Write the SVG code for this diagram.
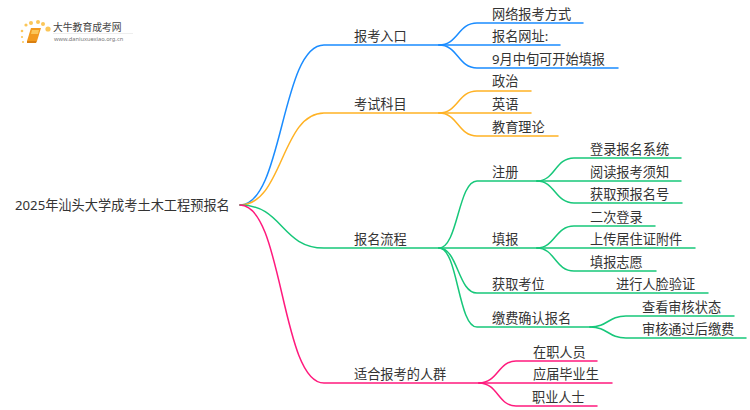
<svg xmlns="http://www.w3.org/2000/svg" width="750" height="410" viewBox="0 0 750 410">
<style>
text{font-family:"Noto Sans","Noto Sans CJK SC",sans-serif;font-size:13.2px;fill:#333}
.c path{fill:none;stroke-width:1.5;stroke-linecap:round}
.b path{stroke:#1a8cff}.o path{stroke:#ffb224}.g path{stroke:#17c77a}.p path{stroke:#ff1a7d}
</style>
<rect width="750" height="410" fill="#fff"/>
<g id="logo">
<g fill="#fbc658"><circle cx="48" cy="29" r="2.6"/><circle cx="43" cy="24" r="2"/><circle cx="38" cy="22" r="2"/><circle cx="31" cy="23" r="2"/><circle cx="26" cy="25" r="1.6"/><circle cx="22" cy="31" r="1.3"/><circle cx="22" cy="37" r="1.1"/><circle cx="23" cy="42" r="1"/></g>
<path d="M31 28H41L37 41H27Z" fill="#f29a1e"/><path d="M32 30H39L38 34H31Z" fill="#fbc658"/><path d="M27 41H37L36 43H27Z" fill="#d97f10"/>
<path d="M53 33.500H133" stroke="#eee" stroke-width="1"/>
<text x="53" y="31" style="font-size:9.8px;fill:#444">大牛教育成考网</text>
<text x="54" y="41" style="font-size:5.7px;fill:#777">www.daniuxuexiao.org.cn</text>
</g>
<g id="connectors" class="c">
<g class="b">
<path d="M240 205C283 205 281 45 324 45H439"/>
<path d="M439 45C458 45 458 23 477 23H583"/><path d="M439 45H560"/><path d="M439 45C458 45 458 68 477 68H618"/>
</g>
<g class="o">
<path d="M240 205C283 205 281 113 324 113H439"/>
<path d="M439 113C458 113 458 91 477 91H531"/><path d="M439 113H531"/><path d="M439 113C458 113 458 136 477 136H558"/>
</g>
<g class="g">
<path d="M240 205C283 205 281 248 324 248H439"/>
<path d="M439 248C458 248 458 181 477 181H537"/><path d="M439 248H537"/><path d="M439 248C458 248 458 293 477 293H708"/><path d="M439 248C458 248 458 327 477 327H590"/>
<path d="M537 181C555 181 555 158 574 158H681"/><path d="M537 181H681"/><path d="M537 181C555 181 555 203 574 203H682"/>
<path d="M537 248C555 248 555 226 574 226H655"/><path d="M537 248H695"/><path d="M537 248C555 248 555 271 574 271H656"/>
<path d="M590 327C608 327 608 316 626 316H734"/><path d="M590 327C608 327 608 338 626 338H746"/>
</g>
<g class="p">
<path d="M240 205C283 205 281 383 324 383H479"/>
<path d="M479 383C498 383 498 361 516 361H597"/><path d="M479 383H612"/><path d="M479 383C498 383 498 406 516 406H597"/>
</g>
</g>
<g id="root"><text x="15" y="209.500">2025年汕头大学成考土木工程预报名</text></g>
<g id="n1"><text x="354" y="40.500">报考入口</text></g>
<g id="n2"><text x="354" y="108.500">考试科目</text></g>
<g id="n3"><text x="354" y="243.500">报名流程</text></g>
<g id="n4"><text x="354" y="378.500">适合报考的人群</text></g>
<g id="n5"><text x="492" y="18.500">网络报考方式</text></g>
<g id="n6"><text x="492" y="40.500">报名网址:</text></g>
<g id="n7"><text x="492" y="63.500">9月中旬可开始填报</text></g>
<g id="n8"><text x="492" y="85.500">政治</text></g>
<g id="n9"><text x="492" y="108.500">英语</text></g>
<g id="n10"><text x="492" y="131.500">教育理论</text></g>
<g id="n11"><text x="492" y="176.500">注册</text></g>
<g id="n12"><text x="492" y="243.500">填报</text></g>
<g id="n13"><text x="492" y="288.500">获取考位</text></g>
<g id="n14"><text x="492" y="322.500">缴费确认报名</text></g>
<g id="n15"><text x="590" y="153.500">登录报名系统</text></g>
<g id="n16"><text x="590" y="176.500">阅读报考须知</text></g>
<g id="n17"><text x="590" y="198.500">获取预报名号</text></g>
<g id="n18"><text x="590" y="221.500">二次登录</text></g>
<g id="n19"><text x="590" y="243.500">上传居住证附件</text></g>
<g id="n20"><text x="590" y="266.500">填报志愿</text></g>
<g id="n21"><text x="616" y="288.500">进行人脸验证</text></g>
<g id="n22"><text x="642" y="311.500">查看审核状态</text></g>
<g id="n23"><text x="642" y="333.500">审核通过后缴费</text></g>
<g id="n24"><text x="533" y="356.500">在职人员</text></g>
<g id="n25"><text x="533" y="378.500">应届毕业生</text></g>
<g id="n26"><text x="532" y="401.500">职业人士</text></g>
</svg>
